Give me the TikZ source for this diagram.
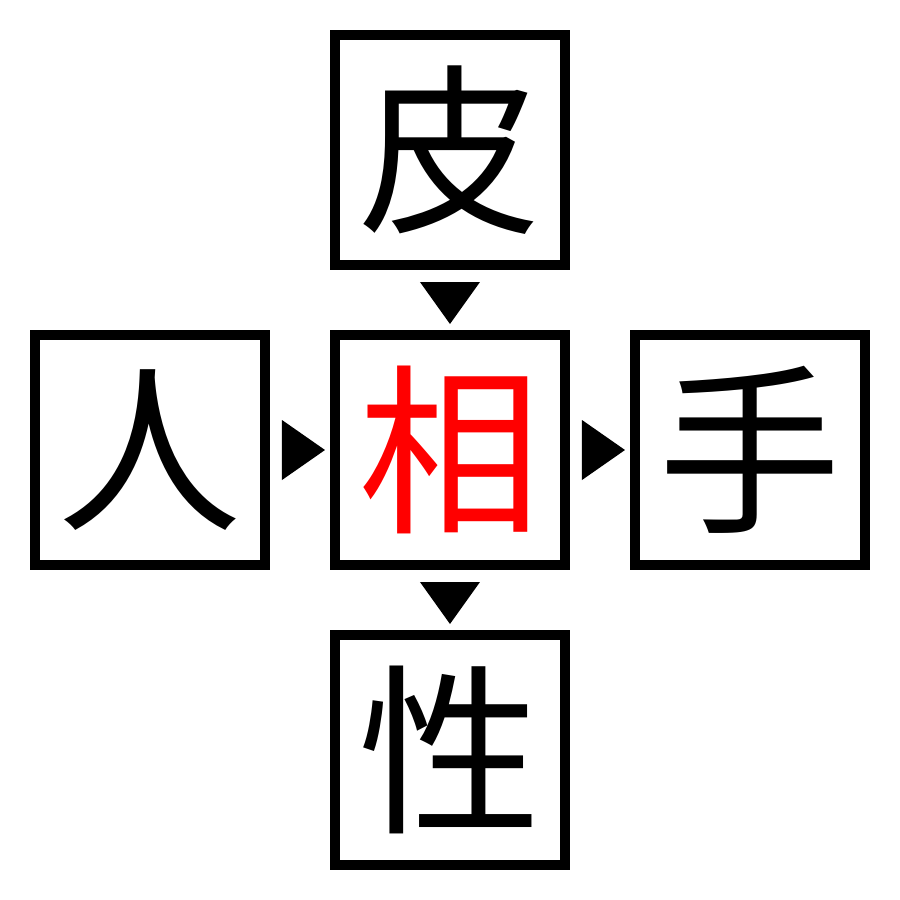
\documentclass[tikz,border=0pt]{standalone}
\usepackage{fontspec}
\newfontfamily\cjk{Noto Sans CJK JP}
\usetikzlibrary{positioning,calc}
\tikzset{
  cell/.style={draw,line width=0.1cm,minimum size=2.3cm,inner sep=0pt,font=\cjk\fontsize{52}{52}\selectfont},
  tri/.style={fill=black}
}
\begin{document}
\begin{tikzpicture}
      \useasboundingbox[fill=white] (-4.5,-4.5) rectangle (4.5,4.5);
      \node[cell] (xiang) at (0,0) {\textcolor{red}{相}};
      \node[cell] (pi) at (0,3) {皮};
      \node[cell] (ren) at (-3,0) {人};
      \node[cell] (shou) at (3,0) {手};
      \node[cell] (xing) at (0,-3) {性};
      \fill[tri] ($(pi.south)+(-0.3,-0.12)$) -- ($(pi.south)+(0.3,-0.12)$) -- ($(pi.south)+(0,-0.54)$) -- cycle;
      \fill[tri] ($(xiang.south)+(-0.3,-0.12)$) -- ($(xiang.south)+(0.3,-0.12)$) -- ($(xiang.south)+(0,-0.54)$) -- cycle;
      \fill[tri] ($(ren.east)+(0.12,0.3)$) -- ($(ren.east)+(0.12,-0.3)$) -- ($(ren.east)+(0.55,0)$) -- cycle;
      \fill[tri] ($(xiang.east)+(0.12,0.3)$) -- ($(xiang.east)+(0.12,-0.3)$) -- ($(xiang.east)+(0.55,0)$) -- cycle;
    \end{tikzpicture}
\end{document}
